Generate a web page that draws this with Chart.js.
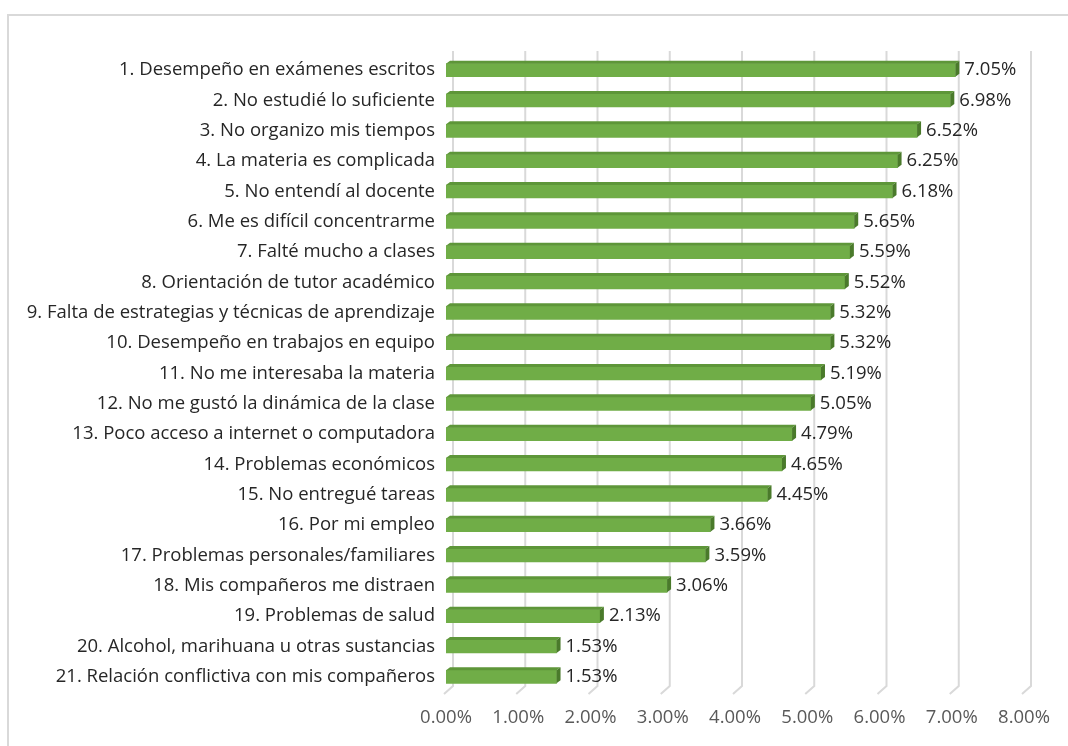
<!DOCTYPE html>
<html>
<head>
<meta charset="utf-8">
<script src="https://cdn.jsdelivr.net/npm/chart.js@4"></script>
<style>
  html, body { margin: 0; padding: 0; background: #fff; }
  #wrap { position: relative; width: 1068px; height: 746px; overflow: hidden; }
  #frame { position: absolute; left: 7px; top: 14px; width: 1100px; height: 800px;
           border-top: 2px solid #d9d9d9; border-left: 2px solid #d9d9d9; }
  canvas { position: absolute; left: 0; top: 0; }
</style>
</head>
<body>
<div id="wrap">
  <div id="frame"></div>
  <canvas id="chart" width="1068" height="746"></canvas>
</div>
<script>
var categories = [
  '1. Desempeño en exámenes escritos',
  '2. No estudié lo suficiente',
  '3. No organizo mis tiempos',
  '4. La materia es complicada',
  '5. No entendí al docente',
  '6. Me es difícil concentrarme',
  '7. Falté mucho a clases',
  '8. Orientación de tutor académico',
  '9. Falta de estrategias y técnicas de aprendizaje',
  '10. Desempeño en trabajos en equipo',
  '11. No me interesaba la materia',
  '12. No me gustó la dinámica de la clase',
  '13. Poco acceso a internet o computadora',
  '14. Problemas económicos',
  '15. No entregué tareas',
  '16. Por mi empleo',
  '17. Problemas personales/familiares',
  '18. Mis compañeros me distraen',
  '19. Problemas de salud',
  '20. Alcohol, marihuana u otras sustancias',
  '21. Relación conflictiva con mis compañeros'
];
var percentages = [7.05, 6.98, 6.52, 6.25, 6.18, 5.65, 5.59, 5.52, 5.32, 5.32, 5.19, 5.05, 4.79, 4.65, 4.45, 3.66, 3.59, 3.06, 2.13, 1.53, 1.53];
var tickValues = [0, 1, 2, 3, 4, 5, 6, 7, 8];

var FONT = '"Open Sans", sans-serif';
var DX = 4, DY = 3; // depth of the fake 3D look

// back-wall gridlines with a little floor stub, like the Excel 3D chart
var gridPlugin = {
  id: 'grid3d',
  beforeDatasetsDraw: function (chart) {
    var ctx = chart.ctx, xs = chart.scales.x, area = chart.chartArea;
    ctx.save();
    ctx.strokeStyle = '#d9d9d9';
    ctx.lineWidth = 2;
    tickValues.forEach(function (v) {
      var x = xs.getPixelForValue(v);
      ctx.beginPath();
      ctx.moveTo(x + 7, area.top - 4);
      ctx.lineTo(x + 7, area.bottom - 6);
      ctx.lineTo(x - 2, area.bottom + 2);
      ctx.stroke();
    });
    ctx.restore();
  }
};

var barPlugin = {
  id: 'bar3d',
  afterDatasetsDraw: function (chart) {
    var ctx = chart.ctx;
    var meta = chart.getDatasetMeta(0);
    ctx.save();
    meta.data.forEach(function (bar, i) {
      var top = bar.y - bar.height / 2, bottom = bar.y + bar.height / 2;
      // top face
      ctx.fillStyle = '#5e9639';
      ctx.beginPath();
      ctx.moveTo(bar.base, top);
      ctx.lineTo(bar.base + DX, top - DY);
      ctx.lineTo(bar.x + DX, top - DY);
      ctx.lineTo(bar.x, top);
      ctx.closePath();
      ctx.fill();
      // side face
      ctx.fillStyle = '#4a7a2b';
      ctx.beginPath();
      ctx.moveTo(bar.x, top);
      ctx.lineTo(bar.x + DX, top - DY);
      ctx.lineTo(bar.x + DX, bottom - DY);
      ctx.lineTo(bar.x, bottom);
      ctx.closePath();
      ctx.fill();
      // value label
      ctx.fillStyle = '#262626';
      ctx.font = '18.5px ' + FONT;
      ctx.textAlign = 'left';
      ctx.textBaseline = 'middle';
      ctx.fillText(percentages[i].toFixed(2) + '%', bar.x + DX + 5, bar.y);
    });
    ctx.restore();
  }
};

var ctx = document.getElementById('chart').getContext('2d');
var chart = new Chart(ctx, {
  type: 'bar',
  data: {
    labels: categories,
    datasets: [{
      data: percentages,
      backgroundColor: '#70ad47',
      borderWidth: 0,
      barThickness: 13
    }]
  },
  options: {
    indexAxis: 'y',
    responsive: false,
    animation: false,
    layout: { padding: { top: 55, right: 44, left: 0, bottom: 0 } },
    plugins: { legend: { display: false }, tooltip: { enabled: false } },
    scales: {
      x: {
        min: 0,
        max: 8,
        afterBuildTicks: function (s) { s.ticks = tickValues.map(function (v) { return { value: v }; }); },
        afterFit: function (s) { s.height = 54; },
        grid: { display: false, drawTicks: false },
        border: { display: false },
        ticks: {
          padding: 15,
          color: '#595959',
          font: { family: FONT, size: 18.5 },
          callback: function (v) { return Number(v).toFixed(2) + '%'; }
        }
      },
      y: {
        afterFit: function (s) { s.width = 446; },
        grid: { display: false, drawTicks: false },
        border: { display: false },
        ticks: {
          padding: 11,
          color: '#262626',
          autoSkip: false,
          font: { family: FONT, size: 18.5 }
        }
      }
    }
  },
  plugins: [gridPlugin, barPlugin]
});
</script>
</body>
</html>
